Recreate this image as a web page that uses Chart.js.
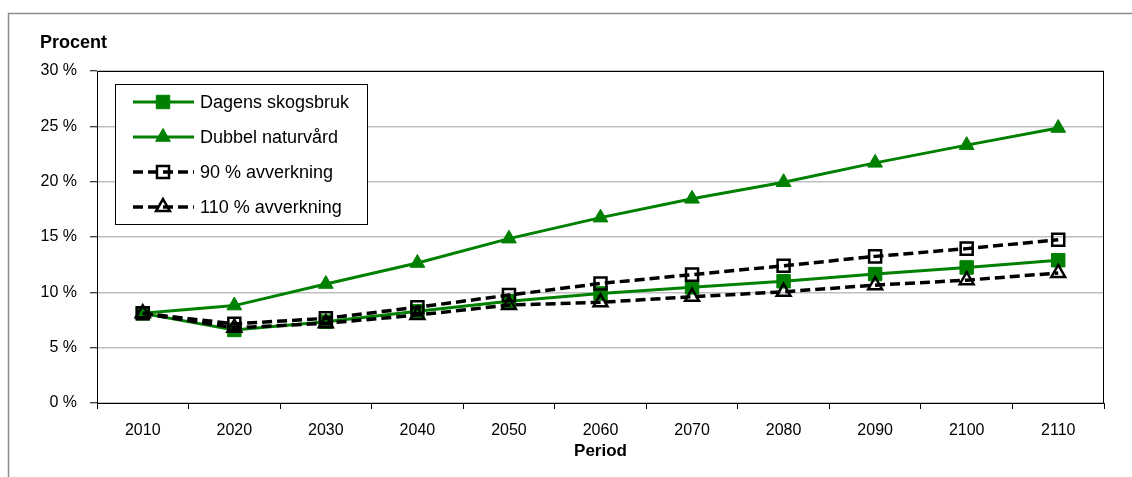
<!DOCTYPE html>
<html>
<head>
<meta charset="utf-8">
<script src="https://cdn.jsdelivr.net/npm/chart.js@4/dist/chart.umd.min.js"></script>
<style>
  html, body { margin: 0; padding: 0; background: #fff; }
  #wrap { width: 1132px; height: 477px; position: relative; }
</style>
</head>
<body>
<div id="wrap"><canvas id="chart" width="1132" height="477"></canvas></div>
<script>
const periods = ["2010", "2020", "2030", "2040", "2050", "2060", "2070", "2080", "2090", "2100", "2110"];
const dagensSkogsbruk = [8.1, 6.6, 7.35, 8.3, 9.2, 9.9, 10.45, 11.0, 11.65, 12.25, 12.9];
const dubbelNaturvard = [8.1, 8.8, 10.75, 12.65, 14.85, 16.75, 18.45, 19.95, 21.7, 23.3, 24.85];
const avverkning90 = [8.1, 7.15, 7.65, 8.65, 9.75, 10.8, 11.6, 12.4, 13.25, 13.95, 14.75];
const avverkning110 = [8.1, 6.8, 7.2, 7.95, 8.85, 9.1, 9.6, 10.05, 10.65, 11.1, 11.75];
const yTicks = [0, 5, 10, 15, 20, 25, 30];

const green = "#008000";
const fontFamily = "'Liberation Sans', Arial, sans-serif";

// frame, plot border, "Procent" and the boxed legend
const extras = {
    id: "extras",
    beforeDraw(chart) {
        const ctx = chart.ctx;
        ctx.save();
        ctx.strokeStyle = "#8c8c8c";
        ctx.lineWidth = 1.5;
        ctx.beginPath();
        ctx.moveTo(8.5, 477);
        ctx.lineTo(8.5, 13.5);
        ctx.lineTo(1132, 13.5);
        ctx.stroke();
        ctx.restore();
    },
    afterDraw(chart) {
        const ctx = chart.ctx;
        const a = chart.chartArea;
        ctx.save();
        ctx.strokeStyle = "#000";
        ctx.lineWidth = 1;
        ctx.strokeRect(Math.round(a.left) + 0.5, Math.round(a.top) + 0.5,
            Math.round(a.right - a.left) - 1, Math.round(a.bottom - a.top));

        ctx.fillStyle = "#000";
        ctx.font = "bold 18px " + fontFamily;
        ctx.textBaseline = "middle";
        ctx.textAlign = "left";
        ctx.fillText("Procent", 40, 43);

        // legend
        const bx = 115.5, by = 84.5, bw = 252, bh = 140;
        ctx.fillStyle = "#fff";
        ctx.fillRect(bx, by, bw, bh);
        ctx.strokeStyle = "#000";
        ctx.lineWidth = 1;
        ctx.strokeRect(bx, by, bw, bh);
        chart.data.datasets.forEach((ds, i) => {
            const y = 102 + i * 35;
            ctx.save();
            ctx.strokeStyle = ds.borderColor;
            ctx.lineWidth = ds.borderWidth;
            ctx.setLineDash(ds.borderDash || []);
            ctx.beginPath();
            ctx.moveTo(133, y);
            ctx.lineTo(194, y);
            ctx.stroke();
            ctx.restore();
            ctx.save();
            ctx.fillStyle = ds.pointBackgroundColor;
            ctx.strokeStyle = ds.pointBorderColor;
            ctx.lineWidth = ds.pointBorderWidth;
            Chart.helpers.drawPoint(ctx, {
                pointStyle: ds.pointStyle,
                rotation: 0,
                radius: ds.pointRadius,
                borderWidth: ds.pointBorderWidth
            }, 163, y);
            ctx.restore();
            ctx.fillStyle = "#000";
            ctx.font = "18px " + fontFamily;
            ctx.textBaseline = "middle";
            ctx.fillText(ds.label, 200, y + 1);
        });
        ctx.restore();
    }
};

new Chart(document.getElementById("chart"), {
    type: "line",
    data: {
        labels: periods,
        datasets: [
            {
                label: "Dagens skogsbruk",
                data: dagensSkogsbruk,
                order: 4,
                borderColor: green,
                borderWidth: 3,
                pointStyle: "rect",
                pointRadius: 9.5,
                pointBackgroundColor: green,
                pointBorderColor: green,
                pointBorderWidth: 1
            },
            {
                label: "Dubbel naturvård",
                data: dubbelNaturvard,
                order: 3,
                borderColor: green,
                borderWidth: 3,
                pointStyle: "triangle",
                pointRadius: 8.5,
                pointBackgroundColor: green,
                pointBorderColor: green,
                pointBorderWidth: 1
            },
            {
                label: "90 % avverkning",
                data: avverkning90,
                order: 2,
                borderColor: "#000",
                borderWidth: 3.5,
                borderDash: [10, 5],
                pointStyle: "rect",
                pointRadius: 8.5,
                pointBackgroundColor: "rgba(255,255,255,0)",
                pointBorderColor: "#000",
                pointBorderWidth: 2.5
            },
            {
                label: "110 % avverkning",
                data: avverkning110,
                order: 1,
                borderColor: "#000",
                borderWidth: 3.5,
                borderDash: [10, 5],
                pointStyle: "triangle",
                pointRadius: 8,
                pointBackgroundColor: "rgba(255,255,255,0)",
                pointBorderColor: "#000",
                pointBorderWidth: 2.5
            }
        ]
    },
    options: {
        responsive: false,
        animation: false,
        layout: { padding: { left: 0, top: 71, right: 28, bottom: 0 } },
        plugins: {
            legend: { display: false },
            tooltip: { enabled: false }
        },
        scales: {
            x: {
                offset: true,
                grid: {
                    offset: true,
                    drawOnChartArea: false,
                    drawTicks: true,
                    tickLength: 6,
                    tickColor: "#000"
                },
                border: { display: true, color: "#000", width: 1 },
                ticks: {
                    color: "#000",
                    padding: 12,
                    maxRotation: 0,
                    autoSkip: false,
                    font: { family: fontFamily, size: 16 }
                },
                title: {
                    display: true,
                    text: "Period",
                    color: "#000",
                    font: { family: fontFamily, size: 17, weight: "bold" },
                    padding: { top: 0, bottom: 15 }
                },
                afterFit(s) { s.height = 74; }
            },
            y: {
                min: 0,
                max: 30,
                afterBuildTicks(s) { s.ticks = yTicks.map(v => ({ value: v })); },
                grid: {
                    color: "#bfbfbf",
                    lineWidth: 1.5,
                    tickLength: 7,
                    tickColor: "#000",
                    tickWidth: 1
                },
                border: { display: true, color: "#000", width: 1 },
                ticks: {
                    color: "#000",
                    padding: 13,
                    callback: v => v + " %",
                    font: { family: fontFamily, size: 16 }
                },
                afterFit(s) { s.width = 97; }
            }
        }
    },
    plugins: [extras]
});
</script>
</body>
</html>
